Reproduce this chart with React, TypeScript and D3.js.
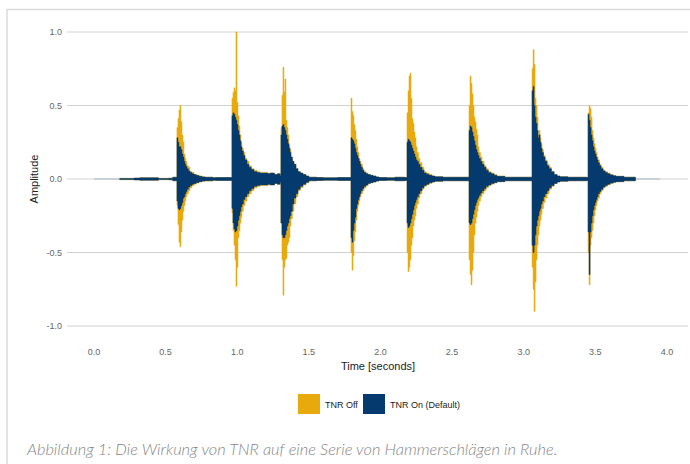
import React from 'react'
import * as d3 from 'd3'

// hit onsets (seconds) and envelope sample offsets after each onset (seconds)
const hitOnsets = [0.579, 0.963, 1.305, 1.794, 2.185, 2.618, 3.058, 3.449]
const hitOffsets = [0, 0.007, 0.014, 0.021, 0.028, 0.035, 0.042, 0.049, 0.056, 0.063, 0.07, 0.08, 0.091, 0.105, 0.119, 0.135, 0.154, 0.175, 0.195, 0.25]

// TNR Off envelope (upper / lower), one row per hit
const offHigh = [
  [0.35, 0.41, 0.47, 0.5, 0.39, 0.3, 0.25, 0.17, 0.14, 0.12, 0.09, 0.08, 0.05, 0.045, 0.03, 0.028, 0.02, 0.016, 0.012, 0.01],
  [0.55, 0.59, 0.62, 0.6, 1.0, 0.52, 0.43, 0.36, 0.3, 0.25, 0.21, 0.18, 0.14, 0.12, 0.09, 0.07, 0.06, 0.05, 0.045, 0.04],
  [0.35, 0.57, 0.76, 0.59, 0.68, 0.4, 0.35, 0.3, 0.23, 0.2, 0.14, 0.12, 0.1, 0.07, 0.05, 0.04, 0.03, 0.02, 0.012, 0.01],
  [0.55, 0.46, 0.43, 0.37, 0.33, 0.27, 0.22, 0.18, 0.14, 0.12, 0.1, 0.07, 0.05, 0.04, 0.03, 0.025, 0.02, 0.014, 0.01, 0.008],
  [0.45, 0.6, 0.7, 0.72, 0.55, 0.41, 0.38, 0.32, 0.28, 0.22, 0.18, 0.14, 0.11, 0.08, 0.05, 0.04, 0.03, 0.02, 0.015, 0.012],
  [0.5, 0.7, 0.65, 0.58, 0.5, 0.42, 0.39, 0.34, 0.3, 0.22, 0.18, 0.15, 0.12, 0.09, 0.07, 0.05, 0.04, 0.03, 0.02, 0.012],
  [0.75, 0.88, 0.78, 0.55, 0.5, 0.42, 0.3, 0.33, 0.28, 0.24, 0.2, 0.16, 0.13, 0.1, 0.08, 0.05, 0.03, 0.02, 0.015, 0.012],
  [0.45, 0.5, 0.48, 0.42, 0.33, 0.28, 0.24, 0.21, 0.18, 0.15, 0.13, 0.1, 0.08, 0.06, 0.05, 0.04, 0.03, 0.022, 0.018, 0.012]
]
const offLow = [
  [-0.18, -0.31, -0.43, -0.46, -0.36, -0.28, -0.22, -0.18, -0.15, -0.12, -0.1, -0.08, -0.06, -0.045, -0.035, -0.028, -0.02, -0.016, -0.014, -0.01],
  [-0.23, -0.35, -0.45, -0.55, -0.73, -0.6, -0.4, -0.35, -0.3, -0.26, -0.22, -0.18, -0.15, -0.12, -0.1, -0.08, -0.06, -0.05, -0.045, -0.04],
  [-0.3, -0.55, -0.79, -0.6, -0.55, -0.54, -0.45, -0.43, -0.4, -0.32, -0.27, -0.22, -0.17, -0.12, -0.08, -0.06, -0.04, -0.025, -0.012, -0.01],
  [-0.5, -0.62, -0.52, -0.42, -0.36, -0.28, -0.22, -0.18, -0.15, -0.12, -0.1, -0.08, -0.06, -0.045, -0.03, -0.025, -0.02, -0.014, -0.01, -0.008],
  [-0.5, -0.63, -0.6, -0.55, -0.45, -0.4, -0.32, -0.28, -0.25, -0.2, -0.17, -0.13, -0.1, -0.07, -0.05, -0.04, -0.03, -0.02, -0.015, -0.012],
  [-0.55, -0.65, -0.72, -0.62, -0.5, -0.38, -0.3, -0.26, -0.22, -0.18, -0.15, -0.12, -0.1, -0.08, -0.06, -0.045, -0.035, -0.025, -0.018, -0.012],
  [-0.6, -0.75, -0.9, -0.7, -0.55, -0.45, -0.38, -0.32, -0.28, -0.24, -0.2, -0.16, -0.13, -0.1, -0.07, -0.05, -0.03, -0.02, -0.015, -0.012],
  [-0.5, -0.72, -0.45, -0.4, -0.35, -0.3, -0.25, -0.21, -0.18, -0.15, -0.13, -0.1, -0.08, -0.06, -0.05, -0.04, -0.03, -0.022, -0.018, -0.012]
]

// TNR On (Default) envelope
const onHigh = [
  [0.28, 0.25, 0.22, 0.22, 0.2, 0.17, 0.15, 0.12, 0.1, 0.085, 0.07, 0.055, 0.045, 0.035, 0.03, 0.024, 0.018, 0.014, 0.012, 0.008],
  [0.43, 0.45, 0.44, 0.42, 0.4, 0.37, 0.33, 0.3, 0.26, 0.22, 0.19, 0.16, 0.13, 0.1, 0.08, 0.065, 0.05, 0.045, 0.04, 0.035],
  [0.3, 0.36, 0.37, 0.35, 0.33, 0.3, 0.27, 0.24, 0.21, 0.18, 0.15, 0.12, 0.1, 0.07, 0.05, 0.04, 0.03, 0.02, 0.012, 0.01],
  [0.28, 0.27, 0.26, 0.24, 0.21, 0.18, 0.16, 0.14, 0.12, 0.1, 0.08, 0.06, 0.045, 0.035, 0.03, 0.025, 0.02, 0.014, 0.01, 0.008],
  [0.25, 0.27, 0.26, 0.25, 0.23, 0.21, 0.19, 0.17, 0.15, 0.13, 0.12, 0.1, 0.08, 0.06, 0.04, 0.032, 0.025, 0.02, 0.015, 0.012],
  [0.33, 0.36, 0.35, 0.32, 0.29, 0.26, 0.23, 0.2, 0.18, 0.16, 0.14, 0.12, 0.1, 0.08, 0.06, 0.045, 0.035, 0.025, 0.018, 0.012],
  [0.6, 0.63, 0.5, 0.42, 0.38, 0.33, 0.28, 0.3, 0.25, 0.21, 0.18, 0.15, 0.12, 0.09, 0.07, 0.05, 0.03, 0.02, 0.015, 0.012],
  [0.44, 0.4, 0.35, 0.3, 0.26, 0.22, 0.19, 0.17, 0.15, 0.13, 0.11, 0.09, 0.07, 0.055, 0.045, 0.035, 0.028, 0.022, 0.018, 0.012]
]
const onLow = [
  [-0.15, -0.2, -0.21, -0.2, -0.18, -0.16, -0.13, -0.12, -0.1, -0.085, -0.07, -0.055, -0.045, -0.035, -0.03, -0.024, -0.018, -0.014, -0.012, -0.008],
  [-0.2, -0.3, -0.34, -0.36, -0.35, -0.32, -0.28, -0.25, -0.22, -0.19, -0.17, -0.14, -0.12, -0.1, -0.08, -0.065, -0.05, -0.045, -0.04, -0.035],
  [-0.3, -0.38, -0.4, -0.4, -0.38, -0.35, -0.32, -0.3, -0.27, -0.25, -0.22, -0.17, -0.13, -0.1, -0.07, -0.05, -0.035, -0.022, -0.012, -0.01],
  [-0.4, -0.43, -0.35, -0.3, -0.26, -0.2, -0.17, -0.14, -0.12, -0.1, -0.08, -0.065, -0.05, -0.04, -0.03, -0.025, -0.02, -0.014, -0.01, -0.008],
  [-0.3, -0.33, -0.32, -0.3, -0.27, -0.24, -0.21, -0.18, -0.16, -0.14, -0.12, -0.1, -0.08, -0.06, -0.045, -0.035, -0.025, -0.02, -0.015, -0.012],
  [-0.3, -0.31, -0.3, -0.27, -0.24, -0.21, -0.18, -0.16, -0.14, -0.125, -0.11, -0.095, -0.08, -0.065, -0.05, -0.04, -0.03, -0.025, -0.018, -0.012],
  [-0.45, -0.5, -0.45, -0.38, -0.32, -0.28, -0.25, -0.22, -0.2, -0.17, -0.15, -0.12, -0.1, -0.08, -0.06, -0.045, -0.03, -0.02, -0.015, -0.012],
  [-0.36, -0.65, -0.36, -0.3, -0.25, -0.21, -0.18, -0.16, -0.14, -0.12, -0.1, -0.085, -0.07, -0.055, -0.045, -0.035, -0.028, -0.022, -0.018, -0.012]
]

// background noise between hits
const floorTimes = [0.18, 0.28, 0.32, 0.42, 0.45, 0.52, 0.55, 0.575, 0.85, 0.95, 1.23, 1.26, 1.28, 1.3, 1.6, 1.7, 1.78, 2.1, 2.17, 2.5, 2.6, 2.95, 3.05, 3.38, 3.44, 3.74, 3.78]
const floorAmps = [0.004, 0.006, 0.008, 0.008, 0.004, 0.005, 0.012, 0.012, 0.01, 0.01, 0.04, 0.03, 0.035, 0.02, 0.008, 0.01, 0.01, 0.012, 0.01, 0.012, 0.012, 0.012, 0.012, 0.012, 0.01, 0.012, 0.01]

const yTicks = [1.0, 0.5, 0.0, -0.5, -1.0]
const xTicks = [0, 0.5, 1, 1.5, 2, 2.5, 3, 3.5, 4]
const signalEnd = 3.95

const gold = '#E8A90D'
const navy = '#053A6E'

type Pt = {t: number; hi: number; lo: number}

function buildSeries(high: number[][], low: number[][]): Pt[] {
  const pts: Pt[] = []
  floorTimes.forEach((t, i) => {
    const inHit = hitOnsets.some(o => t >= o && t <= o + hitOffsets[hitOffsets.length - 1])
    if (!inHit) pts.push({t, hi: floorAmps[i], lo: -floorAmps[i]})
  })
  hitOnsets.forEach((o, h) => {
    hitOffsets.forEach((dt, k) => {
      pts.push({t: o + dt, hi: high[h][k], lo: low[h][k]})
    })
  })
  return pts.sort((a, b) => a.t - b.t)
}

export default function App() {
  const x = d3.scaleLinear().domain([0, 4]).range([94, 667])
  const y = d3.scaleLinear().domain([-1, 1]).range([326, 32])

  const area = d3
    .area<Pt>()
    .curve(d3.curveStepAfter)
    .x(d => x(d.t))
    .y0(d => y(d.lo))
    .y1(d => y(d.hi))

  const offSeries = buildSeries(offHigh, offLow)
  const onSeries = buildSeries(onHigh, onLow)

  return (
    <svg width={690} height={464} style={{position: 'absolute', left: 0, top: 0}}>
      <rect x={0} y={0} width={690} height={464} fill="#fff" />
      <rect x={7} y={9.5} width={700} height={500} fill="none" stroke="#dcdcdc" strokeWidth={1.5} />

      {yTicks.map(v => (
        <g key={v}>
          <line x1={67} x2={688} y1={y(v)} y2={y(v)} stroke="#d2d2d2" strokeWidth={1} />
          <text x={62} y={y(v) + 3} textAnchor="end" fontFamily="Liberation Sans, Arial, sans-serif" fontSize={9} fill="#666">
            {v.toFixed(1)}
          </text>
        </g>
      ))}

      {xTicks.map(v => (
        <text key={v} x={x(v)} y={355} textAnchor="middle" fontFamily="Liberation Sans, Arial, sans-serif" fontSize={9} fill="#666">
          {v.toFixed(1)}
        </text>
      ))}

      <line x1={x(0)} x2={x(signalEnd)} y1={y(0)} y2={y(0)} stroke="#a9b7c6" strokeWidth={1.2} />

      <path d={area(offSeries) || ''} fill={gold} stroke={gold} strokeWidth={0.5} />
      <path d={area(onSeries) || ''} fill={navy} stroke={navy} strokeWidth={0.5} />

      <text x={378} y={370} textAnchor="middle" fontFamily="Liberation Sans, Arial, sans-serif" fontSize={11} fill="#222">
        Time [seconds]
      </text>
      <text
        transform={`translate(38,${y(0)}) rotate(-90)`}
        textAnchor="middle"
        fontFamily="Liberation Sans, Arial, sans-serif"
        fontSize={11}
        fill="#222"
      >
        Amplitude
      </text>

      <rect x={298} y={394} width={22} height={20} fill={gold} />
      <text x={325} y={407.5} fontFamily="Liberation Sans, Arial, sans-serif" fontSize={9} fill="#222">
        TNR Off
      </text>
      <rect x={363} y={394} width={22} height={20} fill={navy} />
      <text x={390} y={407.5} fontFamily="Liberation Sans, Arial, sans-serif" fontSize={9} fill="#222">
        TNR On (Default)
      </text>

      <text x={27} y={455} fontFamily="Lato, 'Open Sans', sans-serif" fontStyle="italic" fontWeight={300} fontSize={16.4} fill="#868686">
        Abbildung 1: Die Wirkung von TNR auf eine Serie von Hammerschlägen in Ruhe.
      </text>
    </svg>
  )
}
